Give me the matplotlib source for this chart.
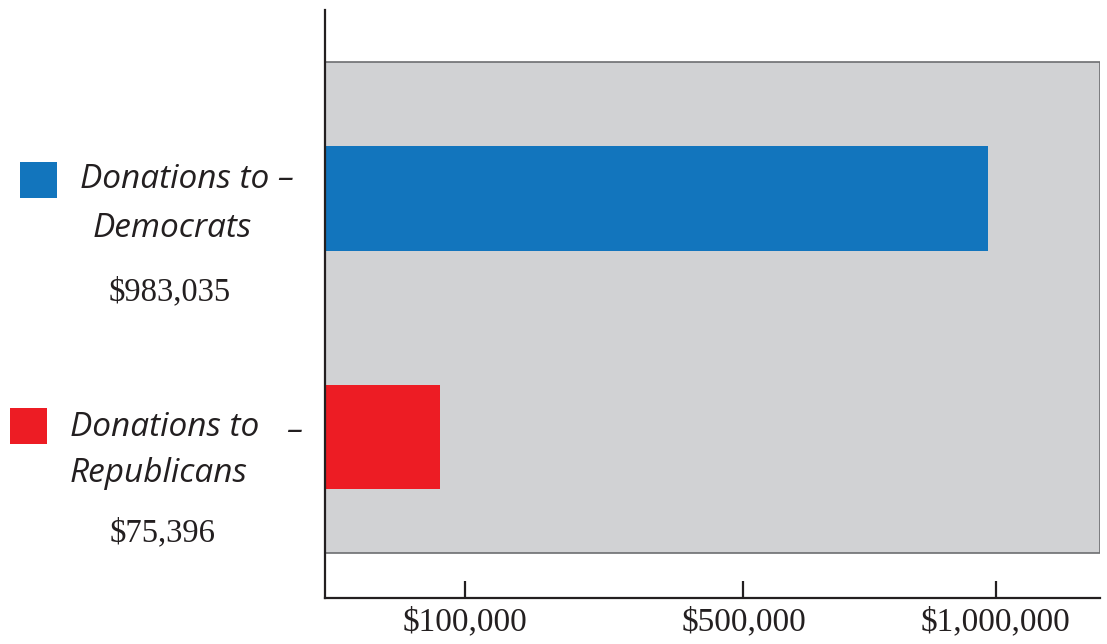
import numpy as np
import matplotlib.pyplot as plt
from matplotlib.patches import Rectangle
from matplotlib.transforms import blended_transform_factory

# data
parties = ['Democrats', 'Republicans']
donations = [983035, 75396]
bar_colors = ['#1275bd', '#ed1c24']
tick_values = [100000, 500000, 1000000]

# the original uses a stretched, non-linear value axis; a power scale is close
power = 0.681
x_max = 1236000

fig = plt.figure(figsize=(11.07, 6.44), dpi=100)
ax = fig.add_axes([0.2936, 0.0714, 0.7001, 0.9131])

ypos = [1, 0]
ax.set_xscale('function', functions=(lambda v: np.power(np.clip(v, 0, None), power),
                                     lambda v: np.power(np.clip(v, 0, None), 1 / power)))
ax.set_xlim(0, x_max)
ax.set_ylim(-0.675, 1.79)

# grey panel behind the bars
ax.axhspan(-0.486, 1.572, xmin=0, xmax=1, facecolor='#d1d2d4', edgecolor='#6d6e71',
           linewidth=1.2, zorder=0)

ax.barh(ypos, donations, height=0.44, color=bar_colors, zorder=2)

for s in ['top', 'right']:
    ax.spines[s].set_visible(False)
for s in ['left', 'bottom']:
    ax.spines[s].set_color('#231f20')
    ax.spines[s].set_linewidth(1.6)

ax.set_yticks([])
ax.set_xticks(tick_values)
ax.set_xticklabels([f'${v:,}' for v in tick_values],
                   fontfamily='Liberation Serif', fontsize=24, color='#231f20')
ax.tick_params(axis='x', direction='in', length=12, width=1.6, color='#231f20', pad=6)
ax.minorticks_off()

# labels on the left, x in figure fraction, y in data units
trans = blended_transform_factory(fig.transFigure, ax.transData)
hand = dict(fontfamily='Open Sans', fontstyle='italic', fontsize=24, color='#231f20',
            va='center', transform=trans)
serif = dict(fontfamily='Liberation Serif', fontsize=23.5, color='#231f20',
             va='center', ha='center', transform=trans)

sq_w, sq_h = 0.0334, 0.151
square_x = [0.018, 0.009]
square_y = [1.078, 0.048]
for i, y in enumerate(ypos):
    ax.add_patch(Rectangle((square_x[i], square_y[i] - sq_h / 2), sq_w, sq_h,
                           transform=trans, facecolor=bar_colors[i], edgecolor='none',
                           clip_on=False))

# Democrats
ax.text(0.0723, 1.078, 'Donations to \u2013', **hand)
ax.text(0.084, 0.876, parties[0], **hand)
ax.text(0.1536, 0.608, f'${donations[0]:,}', **serif)

# Republicans
ax.text(0.0632, 0.038, 'Donations to', **hand)
ax.text(0.258, 0.021, '\u2013', **hand)
ax.text(0.0632, -0.151, parties[1], **hand)
ax.text(0.147, -0.403, f'${donations[1]:,}', **serif)

fig.savefig('out.png', dpi=100)
